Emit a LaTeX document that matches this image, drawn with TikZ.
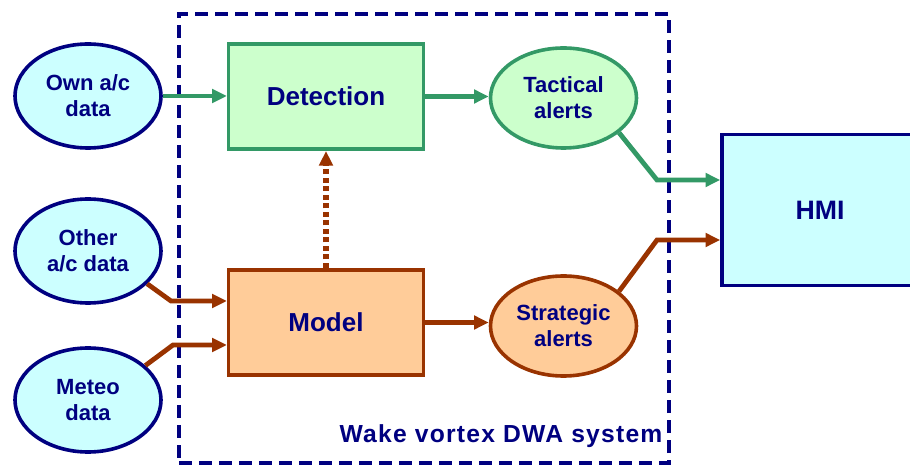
\documentclass[tikz,border=0pt]{standalone}
\usepackage{fontspec}
\setmainfont{Liberation Sans}
\usetikzlibrary{arrows.meta,shapes.geometric}
\definecolor{navy}{HTML}{000080}
\definecolor{grn}{HTML}{339966}
\definecolor{grnfill}{HTML}{CCFFCC}
\definecolor{brn}{HTML}{993300}
\definecolor{brnfill}{HTML}{FFCC99}
\definecolor{cyanfill}{HTML}{CCFFFF}
\tikzstyle{src}=[shape=ellipse,
                 draw=navy,
                 fill=cyanfill,
                 line width=2.7pt,
                 minimum width=109.5pt,
                 minimum height=78pt,
                 inner sep=0pt,
                 align=center,
                 text=navy,
                 font=\fontsize{16.5}{19.5}\selectfont\bfseries]
\tikzstyle{alert}=[src, minimum height=75pt]
\tikzstyle{blk}=[shape=rectangle,
                 line width=2.7pt,
                 minimum width=146pt,
                 minimum height=79pt,
                 text=navy,
                 font=\fontsize{19.5}{22}\selectfont\bfseries]
\tikzstyle{garrow}=[draw=grn, line width=3.6pt, -{Triangle[length=11pt,width=10pt]}]
\tikzstyle{barrow}=[draw=brn, line width=3.6pt, -{Triangle[length=11pt,width=10pt]}]

\begin{document}
\begin{tikzpicture}[x=0.75pt,y=-0.75pt]
\clip (0,0) rectangle (910,466);

% system boundary
\node[draw=navy, line width=2.6pt, dash pattern=on 10pt off 5pt,
      minimum width=367.5pt, minimum height=336.75pt] (sys) at (424,238.5) {};
\node[anchor=south east, text=navy, inner sep=0pt,
      font=\fontsize{18.5}{20}\selectfont\bfseries\addfontfeature{LetterSpace=5}]
      (syslabel) at ([xshift=-6pt,yshift=13pt]sys.south east) {Wake vortex DWA system};

% inputs
\node[src] (own)   at (88,96)  {Own a/c\\data};
\node[src] (other) at (88,251) {Other\\a/c data};
\node[src] (meteo) at (88,400) {Meteo\\data};

% processing blocks
\node[blk, draw=grn, fill=grnfill] (det)   at (326,96.5)  {Detection};
\node[blk, draw=brn, fill=brnfill] (model) at (326,322.5) {Model};

% alerts
\node[alert, draw=grn, fill=grnfill] (tact)  at (563.5,98)  {Tactical\\alerts};
\node[alert, draw=brn, fill=brnfill] (strat) at (563.5,326) {Strategic\\alerts};

% output
\node[blk, draw=navy, fill=cyanfill, minimum width=147pt, minimum height=113.25pt,
      font=\fontsize{20}{22}\selectfont\bfseries] (hmi) at (820,210) {HMI};

% paths
\draw[garrow] (own.east) -- (det.west |- own.east);
\draw[garrow] (det.east) -- (tact.west |- det.east);
\draw[garrow] (tact.-32) -- (657,180) -- (hmi.west |- 657,180);
\draw[barrow] (other.-29) -- (171,301) -- (model.west |- 171,301);
\draw[barrow] (meteo.31) -- (173,345) -- (model.west |- 173,345);
\draw[barrow] (model.east) -- (strat.west |- model.east);
\draw[barrow] (strat.32) -- (657,240) -- (hmi.west |- 657,240);

% model feeds detection
\draw[barrow, line width=3.8pt, dash pattern=on 3.8pt off 2.6pt] (model.north) -- (det.south);

\end{tikzpicture}
\end{document}
